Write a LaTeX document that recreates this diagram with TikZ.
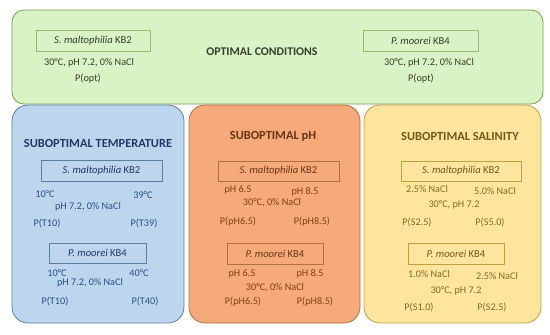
\documentclass[tikz,border=0pt]{standalone}
\usepackage{fontspec}
\setmainfont{Carlito}
\begin{document}
\begin{tikzpicture}[x=1pt,y=-1pt,
  panel/.style={draw, line width=0.8pt, rounded corners=16pt, inner sep=0pt},
  hdr/.style={draw, line width=0.7pt, inner sep=0pt, font=\fontsize{10.6}{12}\selectfont},
  ttl/.style={font=\fontsize{12.4}{14}\selectfont\bfseries, inner sep=0pt},
  txt/.style={font=\fontsize{10.2}{11}\selectfont, inner sep=0pt}]
\definecolor{gF}{HTML}{D9F2C6}\definecolor{gD}{HTML}{77A04A}\definecolor{gT}{HTML}{34402A}
\definecolor{bF}{HTML}{BDD6EE}\definecolor{bD}{HTML}{5A7FA2}\definecolor{bT}{HTML}{1F3B64}\definecolor{bX}{HTML}{2A5081}
\definecolor{oF}{HTML}{F6A97A}\definecolor{oD}{HTML}{B0703C}\definecolor{oT}{HTML}{6A3413}\definecolor{oX}{HTML}{843F14}
\definecolor{yF}{HTML}{FEE59D}\definecolor{yD}{HTML}{C0A043}\definecolor{yT}{HTML}{6E5A1C}\definecolor{yX}{HTML}{866B22}
\useasboundingbox (0,0) rectangle (550,335);
% panels
\node (opt) [panel, draw=gD, fill=gF, rounded corners=12pt, minimum width=531pt, minimum height=94pt] at (277.5,57) {};
\node (tmp) [panel, draw=bD, fill=bF, minimum width=172pt, minimum height=218pt] at (98,214) {};
\node (ph)  [panel, draw=oD, fill=oF, minimum width=171pt, minimum height=218pt] at (274.5,214) {};
\node (sal) [panel, draw=yD, fill=yF, minimum width=177pt, minimum height=218pt] at (452.5,214) {};
% optimal
\node (optT) [ttl, text=gT, font=\fontsize{11.8}{13}\selectfont\bfseries] at (262,52) {OPTIMAL CONDITIONS};
\node (optA) [hdr, draw=gD!70!gF, text=gT, minimum width=114pt, minimum height=21pt] at (93,40.5) {\textit{S. maltophilia} KB2};
\node (optA1) [txt, text=gT] at (89,63) {30°C, pH 7.2, 0\% NaCl};
\node (optA2) [txt, text=gT] at (88,79) {P(opt)};
\node (optB) [hdr, draw=gD!70!gF, text=gT, minimum width=115pt, minimum height=21pt] at (420.5,40.5) {\textit{P. moorei} KB4};
\node (optB1) [txt, text=gT] at (429,63) {30°C, pH 7.2, 0\% NaCl};
\node (optB2) [txt, text=gT] at (421,79) {P(opt)};
% temperature
\node (tmpT) [ttl, text=bT] at (98,143) {SUBOPTIMAL TEMPERATURE};
\node (tmpA) [hdr, draw=bD, text=bT, minimum width=121pt, minimum height=21pt] at (101.5,170.5) {\textit{S. maltophilia} KB2};
\node (tmpA1) [txt, text=bX] at (45,194) {10°C};
\node (tmpA2) [txt, text=bX] at (143,195) {39°C};
\node (tmpA3) [txt, text=bX] at (88,207) {pH 7.2, 0\% NaCl};
\node (tmpA4) [txt, text=bX] at (47,223) {P(T10)};
\node (tmpA5) [txt, text=bX] at (144,223) {P(T39)};
\node (tmpB) [hdr, draw=bD, text=bT, minimum width=97pt, minimum height=20pt] at (97.5,253) {\textit{P. moorei} KB4};
\node (tmpB1) [txt, text=bX] at (57,273) {10°C};
\node (tmpB2) [txt, text=bX] at (139,273) {40°C};
\node (tmpB3) [txt, text=bX] at (90,283) {pH 7.2, 0\% NaCl};
\node (tmpB4) [txt, text=bX] at (55,301) {P(T10)};
\node (tmpB5) [txt, text=bX] at (145,301) {P(T40)};
% pH
\node (phT) [ttl, text=oT] at (273,136) {SUBOPTIMAL pH};
\node (phA) [hdr, draw=oD, text=oT, minimum width=121pt, minimum height=20pt] at (278.5,171) {\textit{S. maltophilia} KB2};
\node (phA1) [txt, text=oX] at (238,190) {pH 6.5};
\node (phA2) [txt, text=oX] at (305,192) {pH 8.5};
\node (phA3) [txt, text=oX] at (272,203) {30°C, 0\% NaCl};
\node (phA4) [txt, text=oX] at (238,222) {P(pH6.5)};
\node (phA5) [txt, text=oX] at (312,222) {P(pH8.5)};
\node (phB) [hdr, draw=oD, text=oT, minimum width=96pt, minimum height=21pt] at (275,253.5) {\textit{P. moorei} KB4};
\node (phB1) [txt, text=oX] at (242,274) {pH 6.5};
\node (phB2) [txt, text=oX] at (310,274) {pH 8.5};
\node (phB3) [txt, text=oX] at (275,288) {30°C, 0\% NaCl};
\node (phB4) [txt, text=oX] at (243,302) {P(pH6.5)};
\node (phB5) [txt, text=oX] at (315,302) {P(pH8.5)};
% salinity
\node (salT) [ttl, text=yT] at (460,136) {SUBOPTIMAL SALINITY};
\node (salA) [hdr, draw=yD, text=yT, minimum width=120pt, minimum height=20pt] at (461,171) {\textit{S. maltophilia} KB2};
\node (salA1) [txt, text=yX] at (427,189) {2.5\% NaCl};
\node (salA2) [txt, text=yX] at (495,191) {5.0\% NaCl};
\node (salA3) [txt, text=yX] at (454,205) {30°C, pH 7.2};
\node (salA4) [txt, text=yX] at (417,222) {P(S2.5)};
\node (salA5) [txt, text=yX] at (490,222) {P(S5.0)};
\node (salB) [hdr, draw=yD, text=yT, minimum width=96pt, minimum height=21pt] at (456,253.5) {\textit{P. moorei} KB4};
\node (salB1) [txt, text=yX] at (429,274) {1.0\% NaCl};
\node (salB2) [txt, text=yX] at (497,276) {2.5\% NaCl};
\node (salB3) [txt, text=yX] at (456,291) {30°C, pH 7.2};
\node (salB4) [txt, text=yX] at (419,307) {P(S1.0)};
\node (salB5) [txt, text=yX] at (492,307) {P(S2.5)};
\end{tikzpicture}
\end{document}
